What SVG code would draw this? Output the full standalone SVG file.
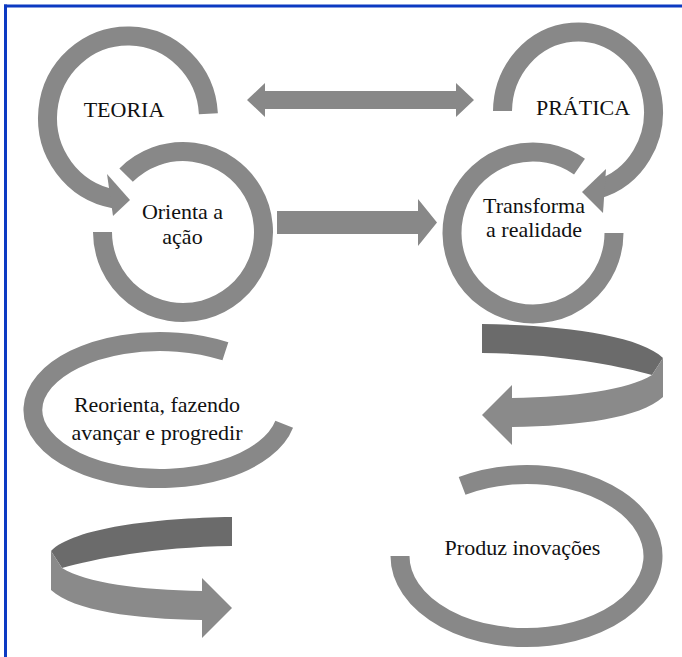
<svg xmlns="http://www.w3.org/2000/svg" width="682" height="657" viewBox="0 0 682 657">
<style>
.ring{fill:none;stroke:#888888;stroke-width:19;stroke-linecap:butt}
.head{fill:#888888}
.dark{fill:#6b6b6b}
.light{fill:#8a8a8a}
</style>
<defs>
<g id="ribbon">
<path class="dark" d="M482,324 C560,325 640,335 663,358 L652,375 C620,366 560,354 482,353 Z"/>
<path class="light" d="M663,358 L663,397 C640,418 580,426 512,427 L512,445 L482,415 L512,385 L512,398 C575,397 628,390 652,375 Z"/>
</g>
</defs>
<rect x="0" y="0" width="682" height="657" fill="#ffffff"/>
<g id="frame" fill="none" stroke="#0c3ac2" stroke-width="3">
<line x1="4" y1="6" x2="682" y2="6"/>
<line x1="5.5" y1="4.5" x2="5.5" y2="657"/>
</g>
<g font-family="'Liberation Serif', 'Times New Roman', Tinos, serif" font-size="22" fill="#111111" text-anchor="middle">
<g id="teoria">
<path class="ring" d="M208.4,113.7 A80.5,82 0 1 0 114,198.8"/>
<polygon class="head" points="107,174 113,216 130,200"/>
<text x="124" y="117">TEORIA</text>
</g>
<g id="pratica">
<path class="ring" d="M502.5,111 A75.5,80 0 1 1 597.5,189.3"/>
<polygon class="head" points="606,169 603,213 582,192"/>
<text x="583" y="115">PRÁTICA</text>
</g>
<g id="orienta">
<path class="ring" d="M102.5,232 A80.5,80.5 0 1 0 126.1,175.1"/>
<text x="182.5" y="219">Orienta a</text>
<text x="182.5" y="244">ação</text>
</g>
<g id="transforma">
<path class="ring" d="M614,233 A81,81 0 1 1 579.5,166.6"/>
<text x="534" y="213">Transforma</text>
<text x="534" y="237">a realidade</text>
</g>
<g id="reorienta">
<path class="ring" d="M225.4,351.3 A127,68.5 0 1 0 284.2,424.2"/>
<text x="157" y="412">Reorienta, fazendo</text>
<text x="157" y="440">avançar e progredir</text>
</g>
<g id="produz">
<path class="ring" d="M400,556 A126.5,81.5 0 1 0 462.1,485.9"/>
<text x="522.5" y="555">Produz inovações</text>
</g>
</g>
<g id="connectors">
<polygon class="head" points="247,100 265,83 265,91 456,91 456,83 474,100 456,117 456,109 265,109 265,117"/>
<polygon class="head" points="277,211 418,211 418,199 437,222.5 418,246 418,234 277,234"/>
<use href="#ribbon"/>
<use href="#ribbon" transform="translate(714,193) scale(-1,1)"/>
</g>
</svg>
